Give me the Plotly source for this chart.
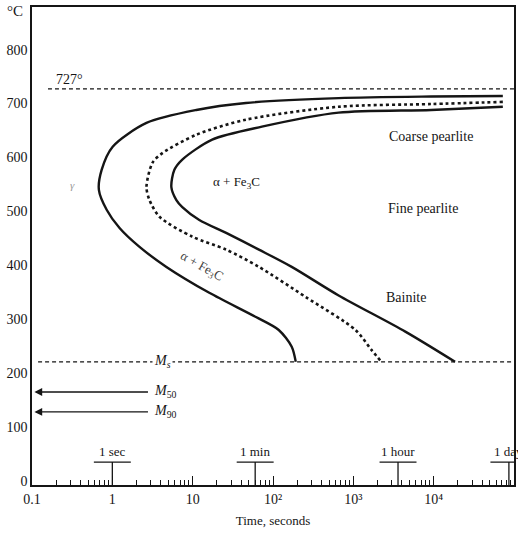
import numpy as np
import plotly.graph_objects as go

# ---- data (time in seconds, temperature in °C) ----
start_t = [72600, 9310, 656, 46, 11.1, 2.66, 1.01, 0.736, 0.68, 0.85, 1.23, 2.18, 4.71, 16.1, 61.4, 118, 171, 192]
start_T = [714, 713, 710, 701, 688, 664, 620, 577, 540, 503, 469, 434, 397, 349, 304, 280, 249, 221]

mid_t = [72600, 9310, 656, 46, 11.1, 4.2, 3.16, 2.66, 2.9, 3.86, 9.9, 26.1, 66.8, 256, 1064, 1683, 2234]
mid_T = [703, 699, 694, 670, 642, 608, 590, 545, 521, 490, 453, 429, 397, 341, 280, 243, 221]

finish_t = [72600, 9310, 656, 72.8, 17.5, 7.43, 5.92, 5.43, 6.27, 7.43, 12.1, 26.1, 66.8, 171, 656, 4436, 18450]
finish_T = [694, 688, 683, 657, 633, 596, 577, 545, 521, 508, 484, 460, 429, 397, 344, 277, 221]

eutectoid_T = 727
Ms_T = 221
M50_T = 165
M90_T = 128

time_units = [1, 60, 3600, 86400]
time_unit_labels = ["1 sec", "1 min", "1 hour", "1 day"]

x_tickvals = [0.1, 1, 10, 100, 1000, 1e4, 1e5]
x_ticktext = ["0.1", "1", "10", "10²", "10³", "10⁴", "10⁵"]
y_tickvals = [0, 100, 200, 300, 400, 500, 600, 700, 800]

FONT = "Liberation Serif, Times New Roman, serif"
INK = "#151515"

fig = go.Figure()

# horizontal reference lines
fig.add_trace(go.Scatter(x=[0.158, 1e5], y=[eutectoid_T] * 2, mode="lines",
                         line=dict(color=INK, width=1.2, dash="4px,3px"), hoverinfo="skip"))
fig.add_trace(go.Scatter(x=[0.119, 1e5], y=[Ms_T] * 2, mode="lines",
                         line=dict(color=INK, width=1.2, dash="4px,3px"), hoverinfo="skip"))

# transformation curves
fig.add_trace(go.Scatter(x=start_t, y=start_T, mode="lines",
                         line=dict(color=INK, width=2.4, shape="spline", smoothing=0.8), hoverinfo="skip"))
fig.add_trace(go.Scatter(x=mid_t, y=mid_T, mode="lines",
                         line=dict(color=INK, width=2.6, dash="3px,3px", shape="spline", smoothing=0.8), hoverinfo="skip"))
fig.add_trace(go.Scatter(x=finish_t, y=finish_T, mode="lines",
                         line=dict(color=INK, width=2.4, shape="spline", smoothing=0.8), hoverinfo="skip"))

# time-unit brackets on the time axis
bracket_T = 35
half = 10 ** 0.23
for t in time_units:
    fig.add_trace(go.Scatter(x=[t, t, None, t / half, t * half], y=[-7.5, bracket_T, None, bracket_T, bracket_T],
                             mode="lines", line=dict(color=INK, width=1.3), hoverinfo="skip"))

annotations = []
for t, lab in zip(time_units, time_unit_labels):
    annotations.append(dict(x=np.log10(t), y=54, text=lab, showarrow=False,
                            font=dict(size=13, family=FONT, color=INK)))

# arrows for M50, M90
for T, lab in [(M50_T, "<i>M</i><sub>50</sub>"), (M90_T, "<i>M</i><sub>90</sub>")]:
    annotations.append(dict(x=-0.97, y=T, ax=np.log10(2.9), ay=T, axref="x", ayref="y",
                            xref="x", yref="y", showarrow=True, arrowhead=2, arrowsize=1.2,
                            arrowwidth=1.3, arrowcolor=INK, text=""))
    annotations.append(dict(x=np.log10(3.1), y=T, text=lab, showarrow=False, xanchor="left",
                            font=dict(size=14, family=FONT, color=INK)))

annotations += [
    dict(x=np.log10(3.1), y=Ms_T, text="<i>M</i><sub><i>s</i></sub>", showarrow=False, xanchor="left",
         bgcolor="white", font=dict(size=14, family=FONT, color=INK)),
    dict(x=-0.529, y=744, text="727°", showarrow=False, font=dict(size=14, family=FONT, color=INK)),
    dict(x=-0.492, y=549, text="<i>γ</i>", showarrow=False, font=dict(size=11, family=FONT, color="#999")),
    dict(x=1.540, y=553, text="α + Fe<sub>3</sub>C", showarrow=False, font=dict(size=13, family=FONT, color=INK)),
    dict(x=1.106, y=397, text="α + Fe<sub>3</sub>C", showarrow=False, textangle=29,
         font=dict(size=13, family=FONT, color="#444")),
    dict(x=3.969, y=638, text="Coarse pearlite", showarrow=False, font=dict(size=14, family=FONT, color=INK)),
    dict(x=3.870, y=505, text="Fine pearlite", showarrow=False, font=dict(size=14, family=FONT, color=INK)),
    dict(x=3.659, y=341, text="Bainite", showarrow=False, font=dict(size=14, family=FONT, color=INK)),
    dict(x=-0.035, y=1.012, xref="paper", yref="paper", text="°C", showarrow=False, yanchor="top",
         xanchor="center", font=dict(size=15, family=FONT, color=INK)),
]

minor_vals = [m * 10 ** e for e in range(-1, 5) for m in range(2, 10)]

fig.update_layout(
    width=518, height=533,
    margin=dict(l=32, r=2, t=7, b=48),
    paper_bgcolor="white", plot_bgcolor="white",
    showlegend=False,
    font=dict(family=FONT, size=14, color=INK),
    annotations=annotations,
    xaxis=dict(type="log", range=[-1, 5], tickvals=x_tickvals, ticktext=x_ticktext,
               ticks="inside", ticklen=9, tickwidth=1.2, tickcolor=INK,
               showline=True, linecolor=INK, linewidth=1.5, mirror=True,
               showgrid=False, zeroline=False,
               minor=dict(tickvals=minor_vals, ticks="inside", ticklen=5, tickwidth=1.1,
                          tickcolor=INK, showgrid=False),
               title=dict(text="Time, seconds", font=dict(size=13, family=FONT, color=INK), standoff=10),
               tickfont=dict(size=14, family=FONT, color=INK)),
    yaxis=dict(range=[-7.5, 879], tickvals=y_tickvals, ticks="",
               showline=True, linecolor=INK, linewidth=1.5, mirror=True,
               showgrid=False, zeroline=False,
               tickfont=dict(size=14, family=FONT, color=INK)),
)

fig.write_html("out.html")
